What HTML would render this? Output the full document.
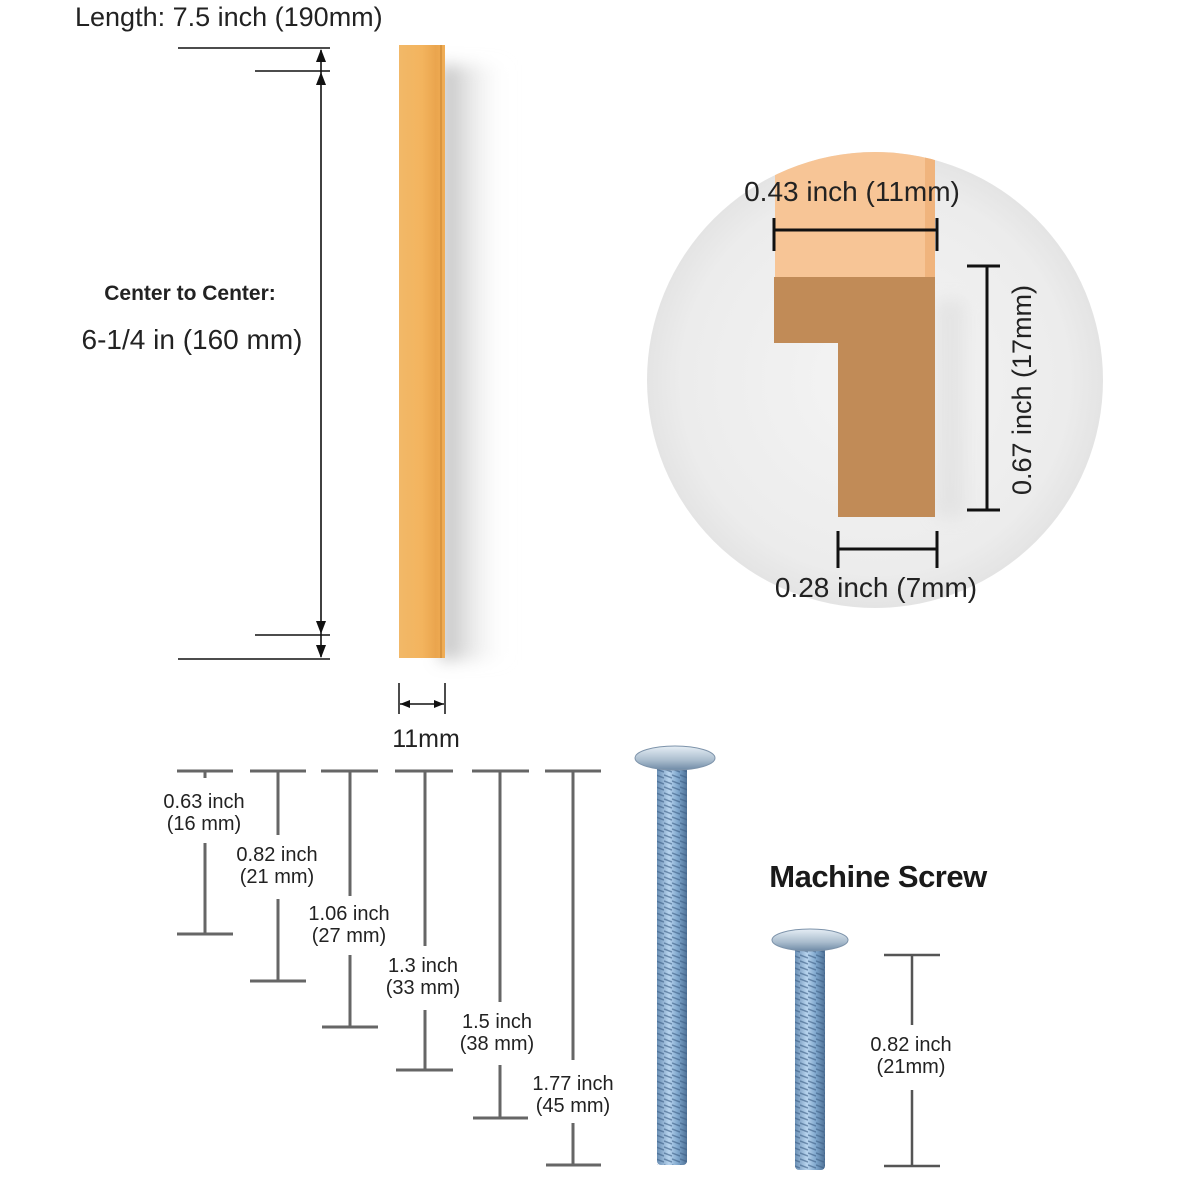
<!DOCTYPE html>
<html><head><meta charset="utf-8"><style>
html,body{margin:0;padding:0;background:#fff;}
svg{display:block;font-family:"Liberation Sans","DejaVu Sans",sans-serif;}
</style></head><body>
<svg width="1181" height="1181" viewBox="0 0 1181 1181" xmlns="http://www.w3.org/2000/svg">
<defs>
<radialGradient id="cg" cx="0.5" cy="0.5" r="0.5">
<stop offset="0" stop-color="#f4f4f4"/><stop offset="0.85" stop-color="#ececec"/><stop offset="1" stop-color="#e4e4e4"/>
</radialGradient>
<linearGradient id="bar" x1="0" x2="1">
<stop offset="0" stop-color="#f2b868"/><stop offset="0.5" stop-color="#f3b45e"/><stop offset="0.8" stop-color="#eaa54e"/><stop offset="1" stop-color="#f0ad55"/>
</linearGradient>
<linearGradient id="sh" x1="0" x2="1">
<stop offset="0" stop-color="#999" stop-opacity="0.7"/><stop offset="1" stop-color="#fff" stop-opacity="0"/>
</linearGradient>
<filter id="blur" x="-50%" y="-10%" width="200%" height="120%"><feGaussianBlur stdDeviation="8"/></filter>
<clipPath id="cc"><circle cx="875" cy="380" r="228"/></clipPath>
<linearGradient id="screw" x1="0" x2="1">
<stop offset="0" stop-color="#6a8fb5"/><stop offset="0.4" stop-color="#b8d4ee"/><stop offset="0.7" stop-color="#7ea6cc"/><stop offset="1" stop-color="#4f7196"/>
</linearGradient>
<linearGradient id="head" x1="0" x2="0" y1="0" y2="1">
<stop offset="0" stop-color="#e6eef5"/><stop offset="0.6" stop-color="#a9bccd"/><stop offset="1" stop-color="#6e8aa6"/>
</linearGradient>
<pattern id="thr" width="8" height="6" patternUnits="userSpaceOnUse">
<line x1="0" y1="1" x2="8" y2="4" stroke="#3d5f85" stroke-width="1.5" opacity="0.6"/>
</pattern>
</defs>

<text x="75" y="26" font-size="27" fill="#222">Length: 7.5 inch (190mm)</text>

<g stroke="#111" stroke-width="1.6">
<line x1="178" y1="48" x2="330" y2="48"/>
<line x1="255" y1="71" x2="330" y2="71"/>
<line x1="255" y1="635" x2="330" y2="635"/>
<line x1="178" y1="659" x2="330" y2="659"/>
<line x1="321" y1="50" x2="321" y2="657"/>
</g>
<g fill="#111">
<polygon points="321,49 316,62 326,62"/>
<polygon points="321,72 316,85 326,85"/>
<polygon points="321,634 316,621 326,621"/>
<polygon points="321,658 316,645 326,645"/>
</g>
<text x="190" y="300" font-size="21" font-weight="bold" fill="#222" text-anchor="middle">Center to Center:</text>
<text x="192" y="349" font-size="28" fill="#222" text-anchor="middle">6-1/4 in (160 mm)</text>

<rect x="440" y="65" width="70" height="595" fill="url(#sh)" filter="url(#blur)"/>
<rect x="399" y="45" width="46" height="613" fill="url(#bar)"/>
<line x1="441" y1="45" x2="441" y2="658" stroke="#d9953f" stroke-width="2"/>

<g stroke="#111" stroke-width="1.5">
<line x1="399" y1="683" x2="399" y2="714"/>
<line x1="445" y1="683" x2="445" y2="714"/>
<line x1="400" y1="704" x2="444" y2="704"/>
</g>
<polygon points="400,704 410,700 410,708" fill="#111"/>
<polygon points="444,704 434,700 434,708" fill="#111"/>
<text x="426" y="747" font-size="25" fill="#222" text-anchor="middle">11mm</text>

<circle cx="875" cy="380" r="228" fill="url(#cg)"/>
<g clip-path="url(#cc)">
<rect x="775" y="140" width="158" height="139" fill="#f7c596"/>
<rect x="925" y="140" width="10" height="139" fill="#f0b47d"/>
<rect x="935" y="300" width="30" height="217" fill="#ddd" opacity="0.6" filter="url(#blur)"/>
</g>
<path d="M774,277 H935 V517 H838 V343 H774 Z" fill="#c18b57"/>
<g stroke="#111" stroke-width="3">
<line x1="773" y1="230" x2="938" y2="230"/>
<line x1="774" y1="218" x2="774" y2="251"/>
<line x1="937" y1="218" x2="937" y2="251"/>
<line x1="987" y1="266" x2="987" y2="510"/>
<line x1="967" y1="266" x2="1000" y2="266"/>
<line x1="967" y1="510" x2="1000" y2="510"/>
<line x1="838" y1="549" x2="937" y2="549"/>
<line x1="838" y1="531" x2="838" y2="568"/>
<line x1="937" y1="531" x2="937" y2="568"/>
</g>
<text x="852" y="201" font-size="28" fill="#222" text-anchor="middle">0.43 inch (11mm)</text>
<text x="876" y="597" font-size="28" fill="#222" text-anchor="middle">0.28 inch (7mm)</text>
<text transform="translate(1031,390) rotate(-90)" font-size="27" fill="#222" text-anchor="middle">0.67 inch (17mm)</text>

<g stroke="#666" stroke-width="3">
<line x1="177" y1="771" x2="233" y2="771"/><line x1="250" y1="771" x2="306" y2="771"/>
<line x1="321" y1="771" x2="378" y2="771"/><line x1="395" y1="771" x2="453" y2="771"/>
<line x1="472" y1="771" x2="529" y2="771"/><line x1="545" y1="771" x2="601" y2="771"/>
<line x1="205" y1="771" x2="205" y2="778"/><line x1="205" y1="843" x2="205" y2="934"/><line x1="177" y1="934" x2="233" y2="934"/>
<line x1="278" y1="771" x2="278" y2="835"/><line x1="278" y1="899" x2="278" y2="981"/><line x1="250" y1="981" x2="306" y2="981"/>
<line x1="350" y1="771" x2="350" y2="896"/><line x1="350" y1="955" x2="350" y2="1027"/><line x1="322" y1="1027" x2="378" y2="1027"/>
<line x1="425" y1="771" x2="425" y2="946"/><line x1="425" y1="1010" x2="425" y2="1070"/><line x1="396" y1="1070" x2="453" y2="1070"/>
<line x1="500" y1="771" x2="500" y2="1002"/><line x1="500" y1="1065" x2="500" y2="1118"/><line x1="473" y1="1118" x2="528" y2="1118"/>
<line x1="573" y1="771" x2="573" y2="1060"/><line x1="573" y1="1123" x2="573" y2="1165"/><line x1="546" y1="1165" x2="601" y2="1165"/>
</g>
<g font-size="20" fill="#222" text-anchor="middle">
<text x="204" y="808">0.63 inch</text><text x="204" y="830">(16 mm)</text>
<text x="277" y="861">0.82 inch</text><text x="277" y="883">(21 mm)</text>
<text x="349" y="920">1.06 inch</text><text x="349" y="942">(27 mm)</text>
<text x="423" y="972">1.3 inch</text><text x="423" y="994">(33 mm)</text>
<text x="497" y="1028">1.5 inch</text><text x="497" y="1050">(38 mm)</text>
<text x="573" y="1090">1.77 inch</text><text x="573" y="1112">(45 mm)</text>
</g>

<rect x="657" y="765" width="30" height="400" rx="4" fill="url(#screw)"/>
<rect x="657" y="765" width="30" height="400" fill="url(#thr)"/>
<ellipse cx="675" cy="758" rx="40" ry="12" fill="url(#head)" stroke="#7d93aa"/>
<rect x="795" y="945" width="30" height="225" rx="4" fill="url(#screw)"/>
<rect x="795" y="945" width="30" height="225" fill="url(#thr)"/>
<ellipse cx="810" cy="940" rx="38" ry="11" fill="url(#head)" stroke="#7d93aa"/>

<text x="878" y="887" font-size="31" font-weight="bold" fill="#1a1a1a" text-anchor="middle" letter-spacing="-0.5">Machine Screw</text>

<g stroke="#555" stroke-width="2.5">
<line x1="884" y1="955" x2="940" y2="955"/>
<line x1="912" y1="955" x2="912" y2="1025"/>
<line x1="912" y1="1090" x2="912" y2="1166"/>
<line x1="884" y1="1166" x2="940" y2="1166"/>
</g>
<text x="911" y="1051" font-size="20" fill="#222" text-anchor="middle">0.82 inch</text>
<text x="911" y="1073" font-size="20" fill="#222" text-anchor="middle">(21mm)</text>
</svg>
</body></html>
